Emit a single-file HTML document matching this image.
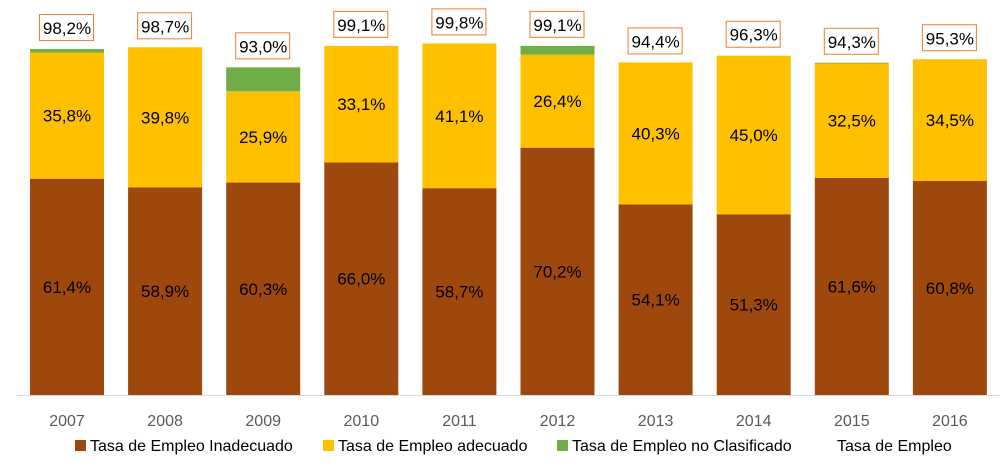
<!DOCTYPE html>
<html><head><meta charset="utf-8"><style>
body{margin:0;background:#fff;font-family:"Liberation Sans",sans-serif}
</style></head><body>
<svg id="c" width="1001" height="467" xmlns="http://www.w3.org/2000/svg" font-family="Liberation Sans, sans-serif"></svg>
<script>
const years=["2007","2008","2009","2010","2011","2012","2013","2014","2015","2016"];
const inadecuado=[61.4,58.9,60.3,66.0,58.7,70.2,54.1,51.3,61.6,60.8];
const adecuado=[35.8,39.8,25.9,33.1,41.1,26.4,40.3,45.0,32.5,34.5];
const noClasificado=[1.0,0,6.8,0,0,2.5,0,0,0.2,0];
const total=[98.2,98.7,93.0,99.1,99.8,99.1,94.4,96.3,94.3,95.3];
const svg=document.getElementById('c');
const NS='http://www.w3.org/2000/svg';
const base=395,ppu=3.523,x0=30,step=98.1,bw=74;
const y=v=>base-v*ppu;
const fmt=v=>v.toFixed(1).replace('.',',')+'%';
function mk(t,a){const e=document.createElementNS(NS,t);for(const k in a)e.setAttribute(k,a[k]);svg.appendChild(e);return e;}
const ax=mk('line',{x1:17,x2:1000,y1:base+0.5,y2:base+0.5,stroke:'#d9d9d9','stroke-width':1});


years.forEach((yr,i)=>{
  const x=x0+i*step;
  const segs=[[inadecuado[i],'#9e480e','inadecuado'],[adecuado[i],'#ffc000','adecuado'],[noClasificado[i],'#70ad47','no-clasificado']];
  let acc=0;
  segs.forEach(([v,col,n])=>{
    if(v<=0)return;
    const r=mk('rect',{x:x,y:y(acc+v),width:bw,height:v*ppu,fill:col});
    
    
    if(n!=='no-clasificado'){
      const t=mk('text',{x:x+bw/2,y:y(acc+v/2)+6,'text-anchor':'middle','font-size':17,fill:'#000'});
      t.textContent=fmt(v);
      
      
    }
    acc+=v;
  });
  const top=y(total[i]);
  const b=mk('rect',{x:x+9.5,y:top-34.5,width:54,height:26,fill:'#fff',stroke:'#ed7d31','stroke-width':1});
  
  
  const t=mk('text',{x:x+bw/2,y:top-15,'text-anchor':'middle','font-size':17,fill:'#000'});
  t.textContent=fmt(total[i]);
  
  
  const yl=mk('text',{x:x+bw/2,y:426,'text-anchor':'middle','font-size':16,fill:'#595959'});
  yl.textContent=yr;
  
  
});
const leg=[['#9e480e','Tasa de Empleo Inadecuado',75],['#ffc000','Tasa de Empleo adecuado',323],['#70ad47','Tasa de Empleo no Clasificado',557],[null,'Tasa de Empleo',822]];
leg.forEach(([c,l,x],i)=>{
  if(c){const s=mk('rect',{x:x,y:440,width:11,height:11,fill:c});
  
  }
  const t=mk('text',{x:x+15,y:451,'font-size':16,fill:'#000'});
  t.textContent=l;
  
  
});
</script>
</body></html>
